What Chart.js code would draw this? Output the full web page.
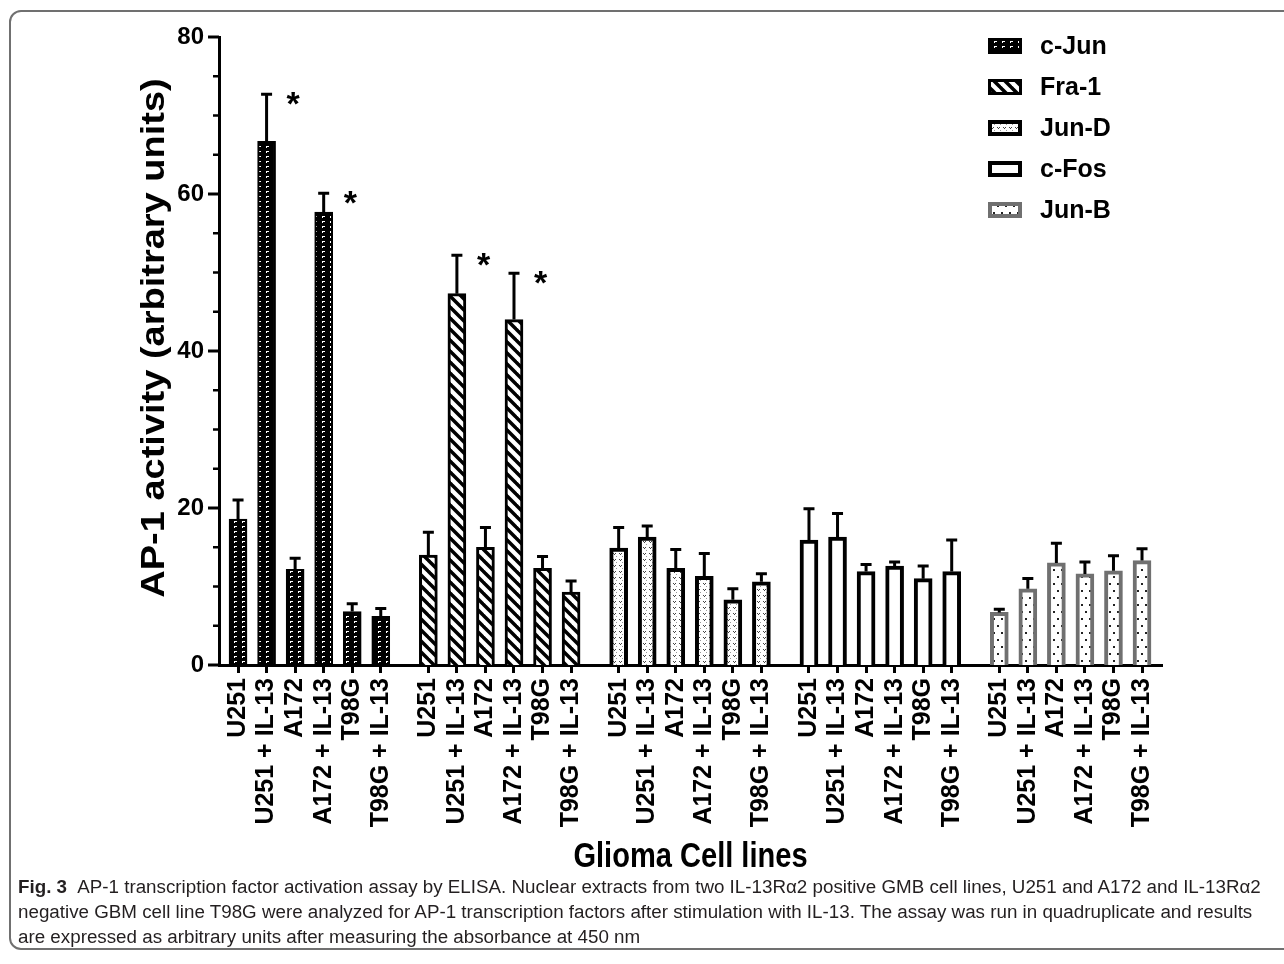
<!DOCTYPE html>
<html>
<head>
<meta charset="utf-8">
<script src="https://cdn.jsdelivr.net/npm/chart.js@4.4.1/dist/chart.umd.min.js"></script>
<style>
  html, body { margin: 0; padding: 0; background: #fff; }
  #page { position: relative; width: 1284px; height: 964px; overflow: hidden; }
  #frame { position: absolute; left: 9px; top: 10px; width: 1300px; height: 940px;
           border: 2px solid #707070; border-radius: 12px; box-sizing: border-box; }
  #chart { position: absolute; left: 0; top: 0; }
  #caption { position: absolute; left: 18px; top: 874px; color: #231f20;
             font-family: 'Liberation Sans', Arial, sans-serif; font-size: 18.8px; line-height: 25px;
             white-space: nowrap; }
  #caption b { font-weight: bold; margin-right: 6px; }
</style>
</head>
<body>
<div id="page">
  <div id="frame"></div>
  <canvas id="chart" width="1284" height="880"></canvas>
  <div id="caption">
    <div><b>Fig. 3</b> AP-1 transcription factor activation assay by ELISA. Nuclear extracts from two IL-13Rα2 positive GMB cell lines, U251 and A172 and IL-13Rα2</div>
    <div>negative GBM cell line T98G were analyzed for AP-1 transcription factors after stimulation with IL-13. The assay was run in quadruplicate and results</div>
    <div>are expressed as arbitrary units after measuring the absorbance at 450 nm</div>
  </div>
</div>
<script>
// --- data ---
const factors = ['c-Jun', 'Fra-1', 'Jun-D', 'c-Fos', 'Jun-B'];
const cellLines = ['U251', 'U251 + IL-13', 'A172', 'A172 + IL-13', 'T98G', 'T98G + IL-13'];

const cJun = [18.6, 66.7, 12.2, 57.7, 6.8, 6.2];
const cJunErr = [2.6, 6.2, 1.6, 2.6, 1.2, 1.2];
const fra1 = [14.0, 47.3, 15.0, 44.0, 12.3, 9.3];
const fra1Err = [3.1, 5.1, 2.7, 6.1, 1.7, 1.6];
const junD = [14.9, 16.3, 12.3, 11.3, 8.3, 10.6];
const junDErr = [2.8, 1.6, 2.6, 3.1, 1.6, 1.2];
const cFos = [15.9, 16.3, 11.9, 12.6, 11.0, 11.9];
const cFosErr = [4.2, 3.2, 1.1, 0.7, 1.8, 4.2];
const junB = [6.7, 9.7, 13.0, 11.6, 12.0, 13.3];
const junBErr = [0.6, 1.5, 2.7, 1.7, 2.1, 1.7];

// significance marks (*)
const cJunSig = [false, true, false, true, false, false];
const fra1Sig = [false, true, false, true, false, false];
const noSig = [false, false, false, false, false, false];

const yTickValues = [0, 20, 40, 60, 80];
const xTitle = 'Glioma Cell lines';
const yTitle = 'AP-1 activity (arbitrary units)';
const groupGap = 0.667; // extra space between factor groups, in bar slots

const ctx = document.getElementById('chart').getContext('2d');
const FONT = "'Liberation Sans', Arial, sans-serif";

// x position of each bar on the linear axis
const slot = (g, i) => g * (cellLines.length + groupGap) + i;
const tickPositions = [];
const tickLabels = [];
factors.forEach((f, g) => cellLines.forEach((c, i) => { tickPositions.push(slot(g, i)); tickLabels.push(c); }));

function makeTile(w, h, paint) {
  const c = document.createElement('canvas');
  c.width = w; c.height = h;
  paint(c.getContext('2d'), w, h);
  return ctx.createPattern(c, 'repeat');
}

const fills = {
  cJun: makeTile(8, 5, (g, w, h) => {
    g.fillStyle = '#000'; g.fillRect(0, 0, w, h);
    g.fillStyle = '#fff'; g.fillRect(2, 1, 3, 1); g.fillRect(2, 2, 1, 1);
  }),
  fra1: makeTile(11, 11, (g, w, h) => {
    g.fillStyle = '#fff'; g.fillRect(0, 0, w, h);
    g.strokeStyle = '#000'; g.lineWidth = 3.5;
    for (const o of [-w, 0, w]) { g.beginPath(); g.moveTo(o - 1, -1); g.lineTo(o + w + 1, h + 1); g.stroke(); }
  }),
  junD: makeTile(6, 6, (g, w, h) => {
    g.fillStyle = '#fff'; g.fillRect(0, 0, w, h);
    g.fillStyle = '#444'; g.fillRect(1, 1, 1, 1); g.fillRect(3, 1, 1, 1); g.fillRect(2, 2, 1, 1);
    g.fillStyle = '#999'; g.fillRect(4, 4, 1, 1);
  }),
  cFos: '#fff',
  junB: makeTile(8, 14, (g, w, h) => {
    g.fillStyle = '#fff'; g.fillRect(0, 0, w, h);
    g.fillStyle = '#222'; g.fillRect(1, 2, 2, 2); g.fillRect(5, 9, 2, 2);
  })
};

const seriesDefs = [
  { values: cJun, errors: cJunErr, sig: cJunSig, fill: fills.cJun, border: '#000', bw: 2 },
  { values: fra1, errors: fra1Err, sig: fra1Sig, fill: fills.fra1, border: '#000', bw: 3 },
  { values: junD, errors: junDErr, sig: noSig, fill: fills.junD, border: '#000', bw: 4 },
  { values: cFos, errors: cFosErr, sig: noSig, fill: fills.cFos, border: '#000', bw: 4 },
  { values: junB, errors: junBErr, sig: noSig, fill: fills.junB, border: '#707070', bw: 4 }
];

const datasets = seriesDefs.map((s, g) => ({
  label: factors[g],
  data: s.values.map((v, i) => ({ x: slot(g, i), y: v })),
  errors: s.errors,
  sig: s.sig,
  backgroundColor: s.fill,
  borderColor: s.border,
  borderWidth: s.bw
}));

// error bars + asterisks
const errorBars = {
  id: 'errorBars',
  afterDatasetsDraw(chart) {
    const c = chart.ctx, y = chart.scales.y;
    c.save();
    c.strokeStyle = '#000';
    c.lineWidth = 3;
    c.fillStyle = '#000';
    c.font = 'bold 34px ' + FONT;
    c.textBaseline = 'top';
    chart.data.datasets.forEach((ds, di) => {
      chart.getDatasetMeta(di).data.forEach((bar, i) => {
        const top = y.getPixelForValue(ds.data[i].y + ds.errors[i]);
        c.beginPath();
        c.moveTo(bar.x, bar.y);
        c.lineTo(bar.x, top);
        c.moveTo(bar.x - 5.5, top + 1.5);
        c.lineTo(bar.x + 5.5, top + 1.5);
        c.stroke();
        if (ds.sig[i]) c.fillText('*', bar.x + 20, top - 4);
      });
    });
    c.restore();
  }
};

// y-axis tick marks (long at labels, short every 5 units) and the two axis titles
const axisExtras = {
  id: 'axisExtras',
  afterDraw(chart) {
    const c = chart.ctx, y = chart.scales.y, area = chart.chartArea;
    c.save();
    c.strokeStyle = '#000';
    for (let v = 0; v <= 80; v += 5) {
      const py = y.getPixelForValue(v);
      const major = yTickValues.includes(v);
      c.lineWidth = major ? 3 : 2.5;
      c.beginPath();
      c.moveTo(area.left - (major ? 11 : 6), py);
      c.lineTo(area.left, py);
      c.stroke();
    }
    c.fillStyle = '#000';
    c.textAlign = 'center';
    c.textBaseline = 'middle';

    c.save();
    c.translate((area.left + area.right) / 2, 857);
    c.scale(0.83, 1);
    c.font = 'bold 35px ' + FONT;
    c.fillText(xTitle, 0, 0);
    c.restore();

    c.save();
    c.translate(155, 338);
    c.rotate(-Math.PI / 2);
    c.scale(1, 0.86);
    c.font = 'bold 38px ' + FONT;
    c.fillText(yTitle, 0, 0);
    c.restore();

    c.restore();
  }
};

// legend, top right inside the plot
const boxLegend = {
  id: 'boxLegend',
  afterDraw(chart) {
    const c = chart.ctx;
    c.save();
    c.font = 'bold 25px ' + FONT;
    c.textBaseline = 'middle';
    chart.data.datasets.forEach((ds, i) => {
      const cy = 46 + i * 41;
      c.fillStyle = ds.backgroundColor;
      c.fillRect(988, cy - 8, 34, 16);
      c.strokeStyle = ds.borderColor;
      c.lineWidth = Math.max(ds.borderWidth, 3);
      c.strokeRect(988 + c.lineWidth / 2, cy - 8 + c.lineWidth / 2, 34 - c.lineWidth, 16 - c.lineWidth);
      c.fillStyle = '#000';
      c.fillText(ds.label, 1040, cy + 1);
    });
    c.restore();
  }
};

new Chart(ctx, {
  type: 'bar',
  data: { datasets },
  plugins: [errorBars, axisExtras, boxLegend],
  options: {
    responsive: false,
    animation: false,
    layout: { padding: { top: 37, right: 122, bottom: 0, left: 0 } },
    datasets: { bar: { grouped: false, barThickness: 18 } },
    plugins: { legend: { display: false }, tooltip: { enabled: false } },
    scales: {
      x: {
        type: 'linear',
        min: -groupGap,
        max: slot(factors.length - 1, cellLines.length - 1) + 0.7,
        offset: false,
        afterFit: s => { s.height = 215; },
        afterBuildTicks: s => { s.ticks = tickPositions.map(v => ({ value: v })); },
        ticks: {
          autoSkip: false, minRotation: 90, maxRotation: 90, padding: 5, color: '#000',
          font: { family: FONT, size: 25, weight: 'bold' },
          callback: (v, i) => tickLabels[i]
        },
        grid: { display: true, drawOnChartArea: false, offset: false, tickLength: 8, tickWidth: 3, tickColor: '#000' },
        border: { display: true, width: 3, color: '#000' }
      },
      y: {
        min: 0, max: 80,
        afterFit: s => { s.width = 219; },
        afterBuildTicks: s => { s.ticks = yTickValues.map(v => ({ value: v })); },
        ticks: { padding: 15, color: '#000', font: { family: FONT, size: 24, weight: 'bold' } },
        grid: { display: false, drawTicks: false },
        border: { display: true, width: 3, color: '#000' }
      }
    }
  }
});
</script>
</body>
</html>
